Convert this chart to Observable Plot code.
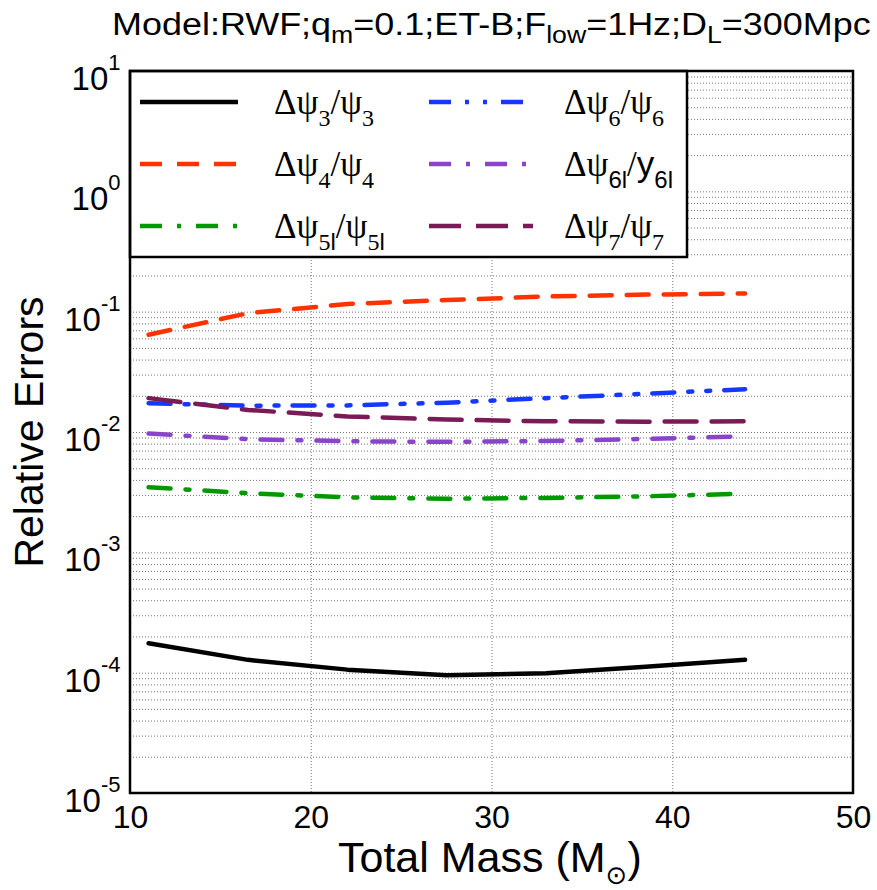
<!DOCTYPE html>
<html>
<head>
<meta charset="utf-8">
<script src="https://cdn.jsdelivr.net/npm/d3@7"></script>
<script src="https://cdn.jsdelivr.net/npm/@observablehq/plot@0.6"></script>
<style>
  html, body { margin: 0; padding: 0; background: white; }
  svg { display: block; }
</style>
</head>
<body>
<div id="chart"></div>
<script>
// ---- data ----
const mass   = [11, 16.5, 22, 27.5, 33, 38.5, 44];
const psi3   = [1.77e-4, 1.29e-4, 1.07e-4, 9.6e-5, 1.0e-4, 1.13e-4, 1.29e-4];
const psi4   = [0.065, 0.098, 0.117, 0.126, 0.135, 0.140, 0.143];
const psi5l  = [0.00351, 0.00313, 0.00289, 0.00282, 0.00286, 0.00295, 0.0031];
const psi6   = [0.0175, 0.0167, 0.0168, 0.0177, 0.0193, 0.0210, 0.0229];
const psi6l  = [0.0098, 0.0088, 0.00846, 0.00836, 0.0085, 0.00885, 0.0093];
const psi7   = [0.0193, 0.0154, 0.0136, 0.0128, 0.0124, 0.0123, 0.0124];

const xTicks = [10, 20, 30, 40, 50];
const yTicks = [1e-5, 1e-4, 1e-3, 1e-2, 1e-1, 1, 10];
const xGrid  = [20, 30, 40];

const titleParts = [["Model:RWF;q", 0], ["m", 1], ["=0.1;ET-B;F", 0], ["low", 1], ["=1Hz;D", 0], ["L", 1], ["=300Mpc", 0]];
const xLabel = ["Total Mass (M", "\u2299", ")"];
const yLabel = "Relative Errors";

// series: values, colour, dash, legend label parts [text, sub?, sans?]
const series = [
  {v: psi3,  color: "#000000", dash: null,               label: [["Δψ",0,0],["3",1,0],["/ψ",0,0],["3",1,0]]},
  {v: psi4,  color: "#ff3200", dash: "22,15",            label: [["Δψ",0,0],["4",1,0],["/ψ",0,0],["4",1,0]]},
  {v: psi5l, color: "#009a00", dash: "22,15,4,15",       label: [["Δψ",0,0],["5",1,0],["l",1,1],["/ψ",0,0],["5",1,0],["l",1,1]]},
  {v: psi6,  color: "#1438ff", dash: "22,14,4,14,4,14",  label: [["Δψ",0,0],["6",1,0],["/ψ",0,0],["6",1,0]]},
  {v: psi6l, color: "#8a44cc", dash: "22,15,4,15",       label: [["Δψ",0,0],["6l",1,1],["/",0,0],["y",0,1],["6l",1,1]]},
  {v: psi7,  color: "#7a1a56", dash: "32,15",            label: [["Δψ",0,0],["7",1,0],["/ψ",0,0],["7",1,0]]}
];

const minorY = d3.scaleLog().domain([1e-5, 10]).ticks().filter(d => d > 1e-5 && d < 10);

const lineMarks = series.map(s => Plot.line(
  mass.map((m, i) => ({mass: m, value: s.v[i]})),
  {x: "mass", y: "value", stroke: s.color, strokeWidth: 4.5, strokeDasharray: s.dash || undefined, strokeLinejoin: "round"}
));

const chart = Plot.plot({
  width: 877,
  height: 890,
  marginLeft: 130,
  marginRight: 24,
  marginTop: 71,
  marginBottom: 97,
  style: {background: "white", fontFamily: "'Liberation Sans', Arial, Helvetica, sans-serif", color: "black"},
  x: {domain: [10, 50]},
  y: {type: "log", domain: [1e-5, 10]},
  marks: [
    Plot.ruleY(minorY, {stroke: "#777", strokeWidth: 1, strokeDasharray: "1,2"}),
    Plot.ruleX(xGrid, {stroke: "#777", strokeWidth: 1, strokeDasharray: "1,2"}),
    ...lineMarks,
    Plot.axisX(xTicks, {tickSize: 0, tickPadding: 12, fontSize: 32, label: null, tickFormat: d => String(d)}),
    Plot.axisY(yTicks, {tickSize: 0, tickPadding: 10, fontSize: 33, label: null, dy: 8,
      tickFormat: d => "10^" + Math.round(Math.log10(d))}),
  ]
});

document.getElementById("chart").appendChild(chart);
const svg = d3.select(chart);
svg.attr("font-family", "'Liberation Sans', Arial, Helvetica, sans-serif");

// superscript exponents on y tick labels
svg.selectAll('g[aria-label="y-axis tick label"] text').each(function() {
  const t = d3.select(this);
  const s = t.text();
  if (!s.includes("^")) return;
  const [base, exp] = s.split("^");
  t.text(null);
  t.append("tspan").text(base);
  t.append("tspan").attr("dy", -20).attr("font-size", 22).text(exp);
});

// legend box
const lg = svg.append("g").attr("text-anchor", "start");
lg.append("rect").attr("x", 130).attr("y", 71).attr("width", 557).attr("height", 186)
  .attr("fill", "white").attr("stroke", "black").attr("stroke-width", 2.5);
const rowsY = [102, 164, 226];
const cols = [{x1: 140, x2: 238, tx: 274}, {x1: 429, x2: 533, tx: 564}];
series.forEach((s, i) => {
  const c = cols[Math.floor(i / 3)], y = rowsY[i % 3];
  lg.append("line").attr("x1", c.x1).attr("x2", c.x2).attr("y1", y).attr("y2", y)
    .attr("stroke", s.color).attr("stroke-width", 4.5)
    .attr("stroke-dasharray", s.dash);
  const t = lg.append("text").attr("x", c.tx).attr("y", y + 12).attr("text-anchor", "start")
    .attr("font-family", "'Liberation Serif', 'Times New Roman', serif").attr("font-size", 35);
  let shifted = false;
  s.label.forEach(([txt, sub, sans]) => {
    const sp = t.append("tspan").text(txt);
    if (sans) sp.attr("font-family", "'Liberation Sans', Arial, sans-serif");
    if (sub && !shifted) { sp.attr("dy", 12); shifted = true; }
    if (!sub && shifted) { sp.attr("dy", -12); shifted = false; }
    if (sub) sp.attr("font-size", 24);
  });
});

// frame on top
svg.append("rect").attr("x", 130).attr("y", 71).attr("width", 723).attr("height", 722)
  .attr("fill", "none").attr("stroke", "black").attr("stroke-width", 2.5);

// title
const tt = svg.append("text").attr("text-anchor", "start")
  .attr("transform", "translate(112,35) scale(1.16,1)").attr("font-size", 31);
{
  let shifted = false;
  titleParts.forEach(([txt, sub]) => {
    const sp = tt.append("tspan").text(txt);
    if (sub && !shifted) { sp.attr("dy", 8); shifted = true; }
    if (!sub && shifted) { sp.attr("dy", -8); shifted = false; }
    if (sub) sp.attr("font-size", 23);
  });
}

// x label
const xl = svg.append("text").attr("text-anchor", "start").attr("x", 338).attr("y", 872).attr("font-size", 43);
xl.append("tspan").text(xLabel[0]);
xl.append("tspan").attr("dy", 12).attr("font-size", 26).attr("font-family", "'DejaVu Sans', sans-serif").text(xLabel[1]);
xl.append("tspan").attr("dy", -12).text(xLabel[2]);

// y label
svg.append("text").attr("transform", "translate(43,432) rotate(-90)")
  .attr("text-anchor", "middle").attr("font-size", 41).text(yLabel);
</script>
</body>
</html>
